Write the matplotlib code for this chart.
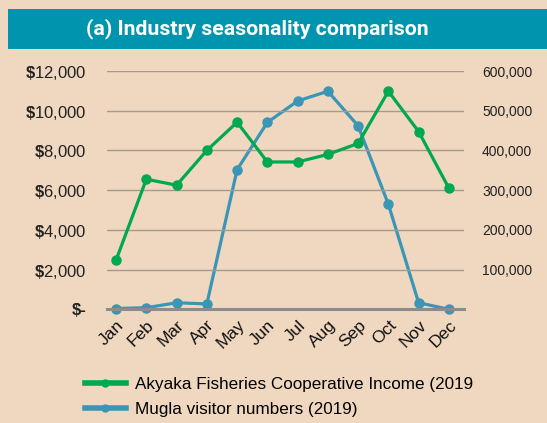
import matplotlib
matplotlib.use("Agg")
import matplotlib.pyplot as plt
from matplotlib.patches import Rectangle
from matplotlib.ticker import FixedLocator, FixedFormatter

plt.rcParams['font.family'] = ['Liberation Sans', 'DejaVu Sans']
plt.rcParams['mathtext.fontset'] = 'custom'
plt.rcParams['mathtext.bf'] = 'Liberation Sans:bold'
plt.rcParams['mathtext.rm'] = 'Liberation Sans'

months = ["Jan", "Feb", "Mar", "Apr", "May", "Jun", "Jul", "Aug", "Sep", "Oct", "Nov", "Dec"]
income = [2480, 6550, 6250, 8000, 9420, 7420, 7420, 7800, 8350, 10980, 8950, 6100]
visitors = [2000, 4000, 16500, 13500, 351500, 470500, 524500, 549000, 462000, 264500, 16500, 0]
left_ticks = [0, 2000, 4000, 6000, 8000, 10000, 12000]
left_labels = ["$-", r"$\mathbf{\$}$2,000", r"$\mathbf{\$}$4,000", r"$\mathbf{\$}$6,000",
               r"$\mathbf{\$}$8,000", r"$\mathbf{\$}$10,000", r"$\mathbf{\$}$12,000"]
right_ticks = [100000, 200000, 300000, 400000, 500000, 600000]
right_labels = ["100,000", "200,000", "300,000", "400,000", "500,000", "600,000"]
income_label = "Akyaka Fisheries Cooperative Income (2019"
visitor_label = "Mugla visitor numbers (2019)"

BG = "#F0D8C0"
TEAL = "#0095AE"
GREEN = "#00A84F"
BLUE = "#3A96B4"
GRID = "#A39A90"

fig = plt.figure(figsize=(5.47, 4.23), dpi=100, facecolor=BG)
fig.patches.append(Rectangle((8/547, 1-49/423), 1, 40/423, transform=fig.transFigure,
                             facecolor=TEAL, edgecolor='none', zorder=0))
fig.text(257/547, 1-29/423, "(a) Industry seasonality comparison", color='white',
         fontsize=15.3, fontweight='bold', family=['Roboto', 'DejaVu Sans'],
         ha='center', va='center')

ax = fig.add_axes([107/547, 1-309.3/423, (464-107)/547, 238.3/423])
ax2 = ax.twinx()
ax.set_zorder(2)
ax2.set_zorder(1)
ax.patch.set_visible(False)
ax2.patch.set_visible(False)

x = list(range(len(months)))
ax.set_xlim(-0.3, 11.5)
ax.set_ylim(0, 12000)
ax2.set_ylim(0, 600000)

for a in (ax, ax2):
    for s in a.spines.values():
        s.set_visible(False)

ax.spines['bottom'].set_visible(True)
ax.spines['bottom'].set_color('#8C8C8C')
ax.spines['bottom'].set_linewidth(2.2)

for t in left_ticks[1:]:
    ax.axhline(t, color=GRID, lw=1.0, zorder=0)

ax.yaxis.set_major_locator(FixedLocator(left_ticks))
ax.yaxis.set_major_formatter(FixedFormatter(left_labels))
ax.tick_params(axis='y', length=0, pad=15, labelsize=12, labelcolor='#222222')
ax2.yaxis.set_major_locator(FixedLocator(right_ticks))
ax2.yaxis.set_major_formatter(FixedFormatter(right_labels))
ax2.tick_params(axis='y', length=0, pad=13, labelsize=10, labelcolor='#222222')

ax.set_xticks(x)
ax.set_xticklabels(months, rotation=45, ha='right', rotation_mode='anchor')
ax.tick_params(axis='x', length=0, pad=6, labelsize=12.5, labelcolor='#111111')

l1, = ax.plot(x, income, color=GREEN, lw=2.3, marker='o', ms=6.5, clip_on=False, zorder=3,
              label=income_label)
l2, = ax2.plot(x, visitors, color=BLUE, lw=2.3, marker='o', ms=6.5, clip_on=False, zorder=3,
               label=visitor_label)

fig.canvas.draw()
for lab in ax.get_yticklabels():
    if lab.get_text() == "$-":
        lab.set_fontweight('bold')

leg = fig.legend(handles=[l1, l2], loc='upper left', bbox_to_anchor=(78/547, 1-370/423),
                 frameon=False, fontsize=12.3, handlelength=2.4, handletextpad=0.55,
                 labelspacing=0.62, borderaxespad=0)
for h in leg.legend_handles:
    h.set_linewidth(4)
    h.set_markersize(5)

fig.savefig("out.png", dpi=100, facecolor=BG)
